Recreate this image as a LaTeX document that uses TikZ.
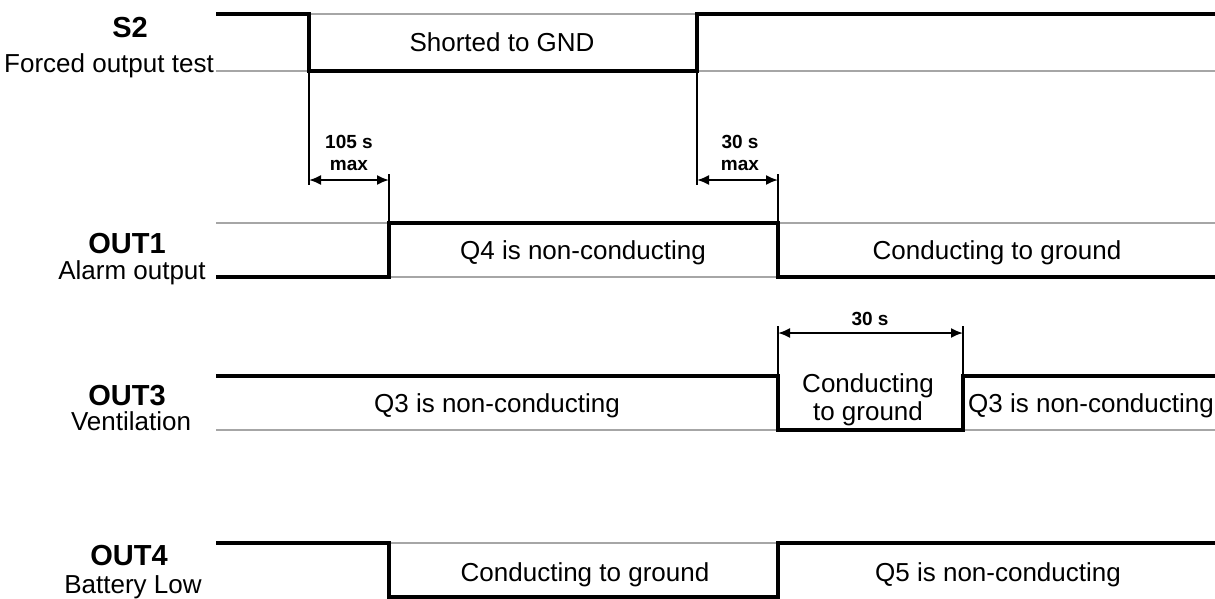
\documentclass[tikz,border=0pt]{standalone}
\usepackage{fontspec}
\setmainfont{Liberation Sans}
\usetikzlibrary{arrows.meta}
\begin{document}
\begin{tikzpicture}[x=1pt,y=-1pt,
  sig/.style={line width=4.2pt, line join=miter},
  ref/.style={line width=1.3pt, draw=black!35},
  ext/.style={line width=1.9pt},
  dim/.style={line width=1.9pt, {Latex[length=12pt,width=10pt]}-{Latex[length=12pt,width=10pt]}},
  txt/.style={font=\fontsize{26}{30}\selectfont, inner sep=0pt, anchor=base},
  head/.style={font=\fontsize{29}{32}\selectfont\bfseries, inner sep=0pt, anchor=base},
  small/.style={font=\fontsize{19}{22}\selectfont\bfseries, inner sep=0pt, anchor=base},
]
\useasboundingbox (0,0) rectangle (1215,598);

% signal points
\coordinate (s0) at (216,14);  \coordinate (s1) at (309,14);
\coordinate (s2) at (309,71);  \coordinate (s3) at (697,71);
\coordinate (s4) at (697,14);  \coordinate (s5) at (1215,14);
\coordinate (sL) at (216,71);  \coordinate (sR) at (1215,71);

\coordinate (a0) at (216,277); \coordinate (a1) at (389,277);
\coordinate (a2) at (389,223); \coordinate (a3) at (778,223);
\coordinate (a4) at (778,277); \coordinate (a5) at (1215,277);
\coordinate (aL) at (216,223); \coordinate (aR) at (1215,223);

\coordinate (b0) at (216,376); \coordinate (b1) at (778,376);
\coordinate (b2) at (778,430); \coordinate (b3) at (963,430);
\coordinate (b4) at (963,376); \coordinate (b5) at (1215,376);
\coordinate (bL) at (216,430); \coordinate (bR) at (1215,430);

\coordinate (c0) at (216,543); \coordinate (c1) at (389,543);
\coordinate (c2) at (389,597); \coordinate (c3) at (778,597);
\coordinate (c4) at (778,543); \coordinate (c5) at (1215,543);

% grey reference lines
\draw[ref] (s1) -- (s4);
\draw[ref] (sL) -- (s2);
\draw[ref] (s3) -- (sR);
\draw[ref] (aL) -- (a2);
\draw[ref] (a3) -- (aR);
\draw[ref] (a1) -- (a4);
\draw[ref] (bL) -- (b2);
\draw[ref] (b3) -- (bR);
\draw[ref] (c1) -- (c4);

% extension lines
\coordinate (e1a) at (309,185); \coordinate (e1b) at (389,174);
\coordinate (e2a) at (697,185); \coordinate (e2b) at (778,174);
\coordinate (e3a) at (778,326); \coordinate (e3b) at (963,326);
\draw[ext] (s2) -- (e1a);
\draw[ext] (e1b) -- (a1);
\draw[ext] (s3) -- (e2a);
\draw[ext] (e2b) -- (a3);
\draw[ext] (e3a) -- (b1);
\draw[ext] (e3b) -- (b4);

% dimension arrows
\coordinate (d1a) at (309,180); \coordinate (d1b) at (389,180);
\coordinate (d2a) at (697,180); \coordinate (d2b) at (778,180);
\coordinate (d3a) at (778,333); \coordinate (d3b) at (963,333);
\draw[dim] (d1a) -- (d1b);
\draw[dim] (d2a) -- (d2b);
\draw[dim] (d3a) -- (d3b);

% signals
\draw[sig] (s0) -- (s1) -- (s2) -- (s3) -- (s4) -- (s5);
\draw[sig] (a0) -- (a1) -- (a2) -- (a3) -- (a4) -- (a5);
\draw[sig] (b0) -- (b1) -- (b2) -- (b3) -- (b4) -- (b5);
\draw[sig] (c0) -- (c1) -- (c2) -- (c3) -- (c4) -- (c5);

% labels
\node[head] (s2lbl) at (130,37) {S2};
\node[txt] (s2sub) at (109,72) {Forced output test};
\node[head] (o1lbl) at (127,253) {OUT1};
\node[txt] (o1sub) at (132,279) {Alarm output};
\node[head] (o3lbl) at (127,405) {OUT3};
\node[txt] (o3sub) at (131,430) {Ventilation};
\node[head] (o4lbl) at (129,565) {OUT4};
\node[txt] (o4sub) at (133,593) {Battery Low};

\node[txt] (t1) at (502,51) {Shorted to GND};
\node[txt] (t2) at (583,259) {Q4 is non-conducting};
\node[txt] (t3) at (997,259) {Conducting to ground};
\node[txt] (t4) at (497,412) {Q3 is non-conducting};
\node[txt] (t5a) at (868,392) {Conducting};
\node[txt] (t5b) at (868,420) {to ground};
\node[txt] (t6) at (1091,412) {Q3 is non-conducting};
\node[txt] (t7) at (585,581) {Conducting to ground};
\node[txt] (t8) at (998,581) {Q5 is non-conducting};

\node[small] (m1a) at (349,148) {105 s};
\node[small] (m1b) at (349,170) {max};
\node[small] (m2a) at (740,148) {30 s};
\node[small] (m2b) at (740,170) {max};
\node[small] (m3) at (870,325) {30 s};
\end{tikzpicture}
\end{document}
